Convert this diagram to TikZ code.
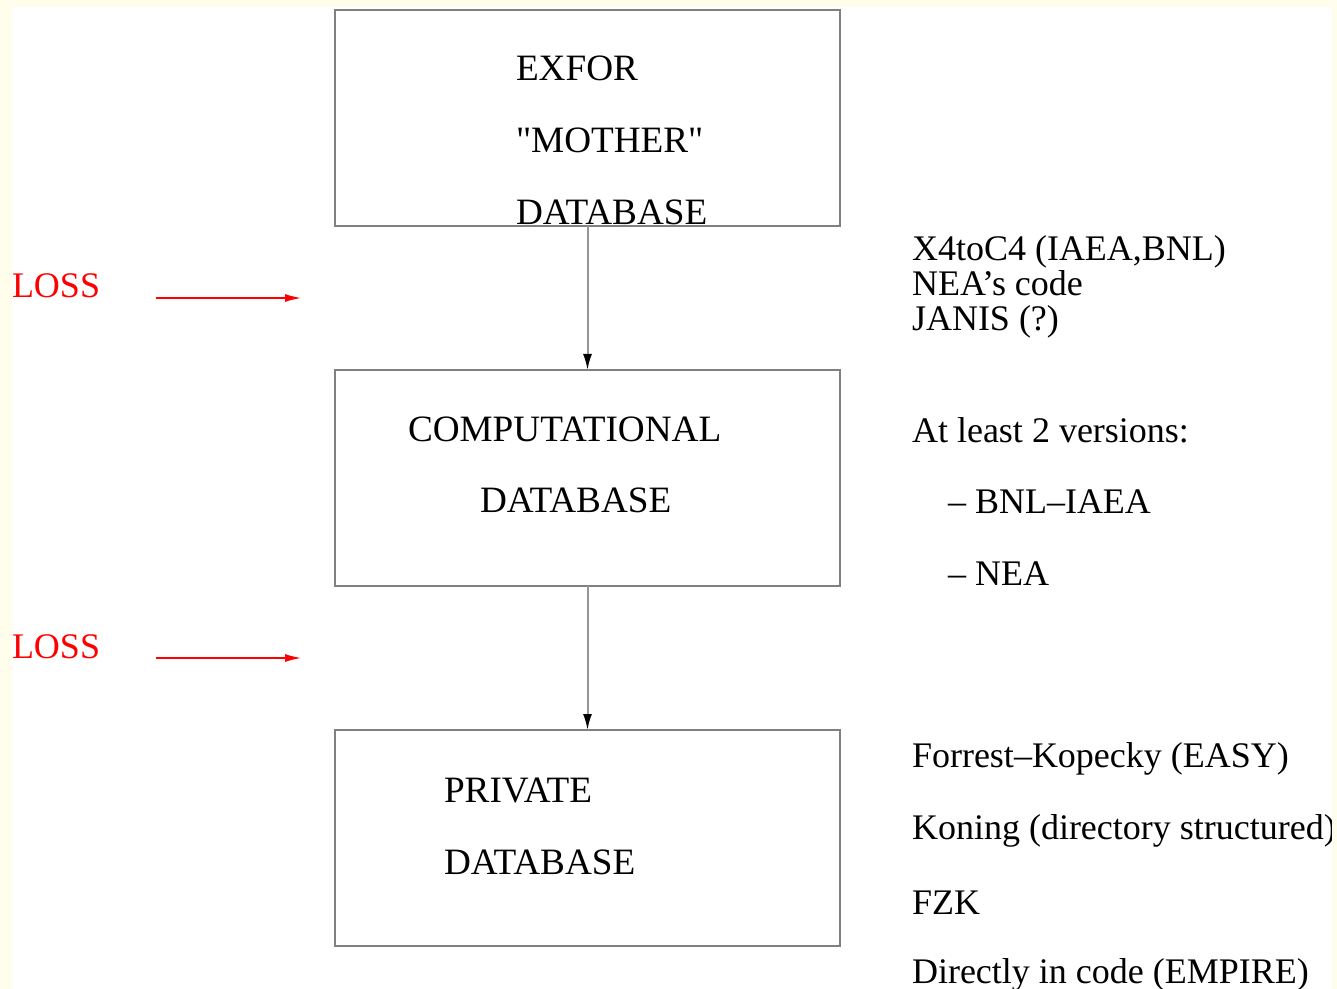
\documentclass[tikz,border=0pt]{standalone}
\usepackage{fontspec}
\setmainfont{Liberation Serif}
\usetikzlibrary{arrows.meta}
\definecolor{cream}{RGB}{255,253,236}
\definecolor{boxgray}{RGB}{128,128,128}
\definecolor{flowgray}{RGB}{150,150,150}
\definecolor{lossred}{RGB}{255,0,0}
\tikzset{
  dbbox/.style={draw=boxgray, line width=1pt, fill=white, minimum width=252.5pt,
    minimum height=108pt, inner sep=0pt, outer sep=0pt},
  txt/.style={anchor=base west, inner sep=0pt, outer sep=0pt,
    font=\fontsize{18}{18}\selectfont},
  boxtxt/.style={txt, font=\fontsize{18.6}{18.6}\selectfont},
  losstxt/.style={txt, text=lossred},
  flow/.style={draw=flowgray, line width=1pt,
    -{Latex[color=black, length=8pt, width=4.5pt]}},
  lossarrow/.style={draw=lossred, line width=0.6pt,
    -{Latex[length=8pt, width=4pt]}}
}
\begin{document}
\begin{tikzpicture}[x=0.5pt, y=-0.5pt]
  \useasboundingbox (0,0) rectangle (1337,989);
  \fill[white] (0,0) rectangle (1337,989);

  % the three databases
  \node[dbbox] (mother) at (587.5,118) {};
  \node[dbbox] (comp)   at (587.5,478) {};
  \node[dbbox] (priv)   at (587.5,838) {};

  % box captions
  \node[boxtxt] (m1) at (516,81)  {EXFOR};
  \node[boxtxt] (m2) at (516,153) {\addfontfeatures{Ligatures=TeXOff}"MOTHER"};
  \node[boxtxt] (m3) at (516,225) {DATABASE};
  \node[boxtxt] (c1) at (408,441) {COMPUTATIONAL};
  \node[boxtxt] (c2) at (480,512) {DATABASE};
  \node[boxtxt] (p1) at (444,802) {PRIVATE};
  \node[boxtxt] (p2) at (444,874) {DATABASE};

  % conversion steps
  \draw[flow] (mother.south) -- (comp.north);
  \draw[flow] (comp.south) -- (priv.north);

  % information loss markers
  \node[losstxt] (loss1) at (12,298) {LOSS};
  \node[losstxt] (loss2) at (12,658) {LOSS};
  \coordinate (la1) at (156,298);
  \coordinate (lb1) at (301,298);
  \coordinate (la2) at (156,658);
  \coordinate (lb2) at (301,658);
  \draw[lossarrow] (la1) -- (lb1);
  \draw[lossarrow] (la2) -- (lb2);

  % notes on the right
  \node[txt] (r1) at (912,261) {X4toC4 (IAEA,BNL)};
  \node[txt] (r2) at (912,296) {NEA's code};
  \node[txt] (r3) at (912,331) {JANIS (?)};

  \node[txt] (v0) at (912,442) {At least 2 versions:};
  \node[txt] (v1) at (948,513) {-- BNL--IAEA};
  \node[txt] (v2) at (948,585) {-- NEA};

  \node[txt] (q1) at (912,767) {Forrest--Kopecky (EASY)};
  \node[txt] (q2) at (912,839) {Koning (directory structured)};
  \node[txt] (q3) at (912,914) {FZK};
  \node[txt] (q4) at (912,983) {Directly in code (EMPIRE)};

  % page frame
  \fill[cream, even odd rule] (0,0) rectangle (1337,989) (12,7) rectangle (1332,989);
\end{tikzpicture}
\end{document}
